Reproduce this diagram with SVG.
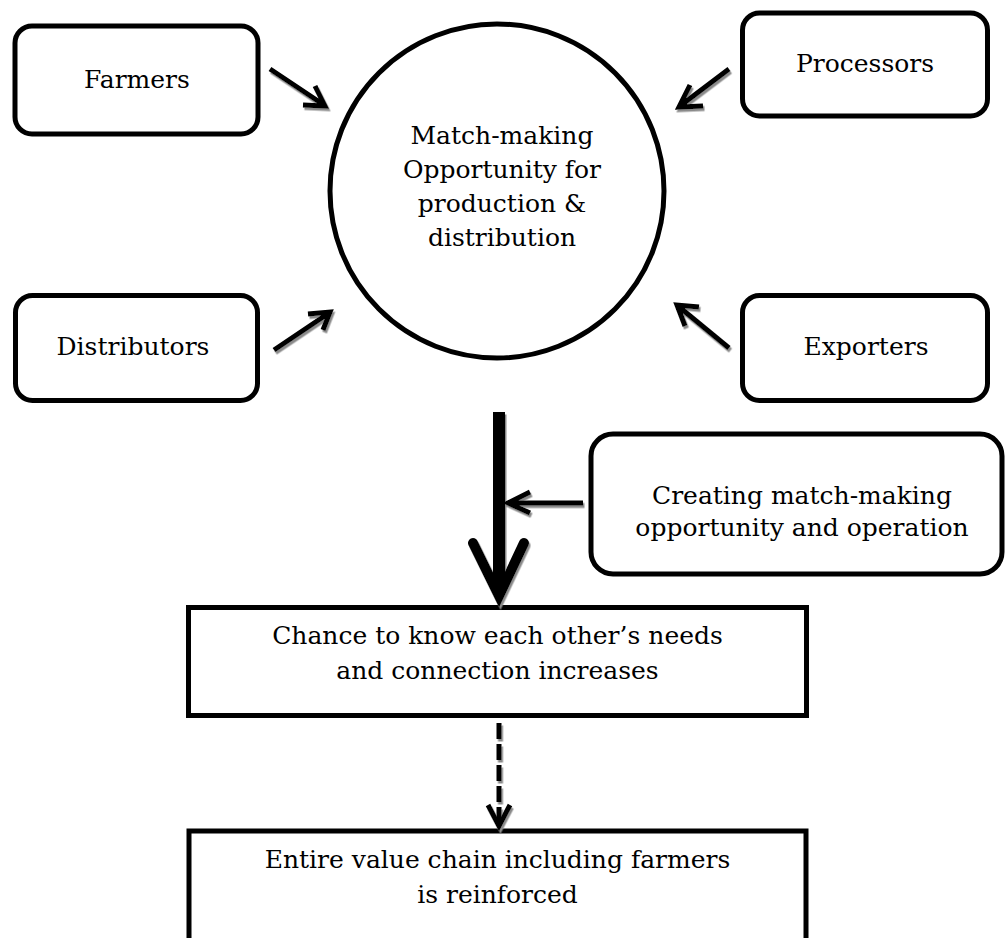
<svg xmlns="http://www.w3.org/2000/svg" width="1006" height="938" viewBox="0 0 1006 938">
  <style>
    .box { fill: #fff; stroke: #000; stroke-width: 5; }
    .lbl { font-family: "DejaVu Serif", "Liberation Serif", serif; font-size: 25px; fill: #000; text-anchor: middle; }
    .arr { fill: none; stroke: #000; stroke-width: 5; stroke-linejoin: miter; }
    .fat { fill: none; stroke: #000; stroke-width: 12; }
    .head { fill: none; stroke: #000; stroke-width: 10; stroke-linecap: round; stroke-linejoin: miter; }
  </style>
  <defs>
    <filter id="shadow" filterUnits="userSpaceOnUse" x="0" y="0" width="1006" height="938">
      <feDropShadow dx="1.5" dy="2.5" stdDeviation="0.6" flood-color="#8a8a8a" flood-opacity="1"/>
    </filter>
  </defs>
  <rect width="1006" height="938" fill="#fff"/>

  <g id="farmers">
    <rect class="box" x="15" y="26" width="243" height="108" rx="17"/>
    <text class="lbl" x="137" y="88">Farmers</text>
  </g>

  <g id="processors">
    <rect class="box" x="742.5" y="13" width="245" height="103" rx="17"/>
    <text class="lbl" x="865" y="72">Processors</text>
  </g>

  <g id="distributors">
    <rect class="box" x="15.5" y="295.5" width="242" height="105" rx="17"/>
    <text class="lbl" x="133" y="355">Distributors</text>
  </g>

  <g id="exporters">
    <rect class="box" x="742.5" y="295.5" width="245" height="105" rx="17"/>
    <text class="lbl" x="866" y="355">Exporters</text>
  </g>

  <g id="matchmaking">
    <circle class="box" cx="497" cy="191" r="167"/>
    <text class="lbl" x="502" y="144">Match-making</text>
    <text class="lbl" x="502" y="178">Opportunity for</text>
    <text class="lbl" x="502" y="212">production &amp;</text>
    <text class="lbl" x="502" y="246">distribution</text>
  </g>

  <g id="creating">
    <rect class="box" x="591" y="434" width="411" height="140" rx="22"/>
    <text class="lbl" x="802" y="504">Creating match-making</text>
    <text class="lbl" x="802" y="536">opportunity and operation</text>
  </g>

  <g id="chance">
    <rect class="box" x="188.5" y="607.5" width="618" height="108"/>
    <text class="lbl" x="497.5" y="644">Chance to know each other’s needs</text>
    <text class="lbl" x="497.5" y="679">and connection increases</text>
  </g>

  <g id="reinforced">
    <rect class="box" x="189" y="831" width="617" height="140"/>
    <text class="lbl" x="497.5" y="868">Entire value chain including farmers</text>
    <text class="lbl" x="497.5" y="903">is reinforced</text>
  </g>

  <g id="connectors" filter="url(#shadow)">
    <!-- suppliers into the match-making circle -->
    <path class="arr" d="M270 69 L324 105 M315 86 L325 106 L303 105"/>
    <path class="arr" d="M729 69 L680 106 M690 85 L679 107 L703 106"/>
    <path class="arr" d="M274 350 L329 313 M308 314 L330 312 L323 330"/>
    <path class="arr" d="M729 348 L678 306 M699 307 L677 305 L685 326"/>
    <!-- main flow downwards -->
    <path class="fat" d="M499 412 L499 590"/>
    <path class="head" d="M473 543 L499 596 L524 543"/>
    <!-- operation feeding the flow -->
    <path class="arr" d="M583 503 L510 503 M530 492 L508 503 L530 513"/>
    <!-- result chain -->
    <path class="arr" d="M499 723 L499 822" stroke-dasharray="16 5"/>
    <path class="arr" d="M488 805 L499 826 L510 805"/>
  </g>
</svg>
